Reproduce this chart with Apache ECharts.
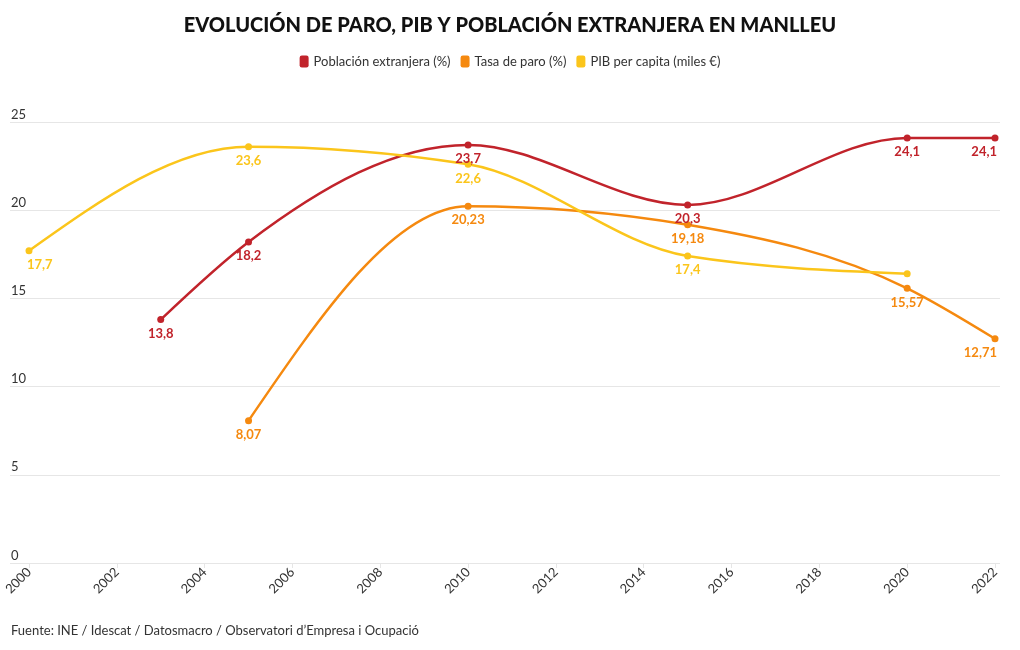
<!DOCTYPE html>
<html><head><meta charset="utf-8">
<script src="https://cdn.jsdelivr.net/npm/echarts@6/dist/echarts.min.js"></script>
<style>html,body{margin:0;padding:0;background:#fff}#c{width:1020px;height:650px}</style>
</head><body><div id="c"></div>
<script>
const xTicks = [2000, 2002, 2004, 2006, 2008, 2010, 2012, 2014, 2016, 2018, 2020, 2022];
const poblacion = [[2003, 13.8], [2005, 18.2], [2010, 23.7], [2015, 20.3], [2020, 24.1], [2022, 24.1]];
const paro = [[2005, 8.07], [2010, 20.23], [2015, 19.18], [2020, 15.57], [2022, 12.71]];
const pib = [[2000, 17.7], [2005, 23.6], [2010, 22.6], [2015, 17.4], [2020, 16.4]];
const pibHiddenLabel = [2020];
const seriesNames = ['Población extranjera (%)', 'Tasa de paro (%)', 'PIB per capita (miles €)'];
const colors = ['#c1232b', '#f5890f', '#fbc51b'];
const FONT = 'Lato';

const chart = echarts.init(document.getElementById('c'));
function fmt(v){ return String(v).replace('.', ','); }

// monotone-x tangents (computed in pixel space)
function tangents(pts){
  const n = pts.length, t = new Array(n).fill(0);
  const sgn = v => v < 0 ? -1 : v > 0 ? 1 : 0;
  for (let i = 1; i < n - 1; i++){
    const h0 = pts[i][0] - pts[i-1][0], h1 = pts[i+1][0] - pts[i][0];
    const s0 = (pts[i][1] - pts[i-1][1]) / h0, s1 = (pts[i+1][1] - pts[i][1]) / h1;
    const p = (s0 * h1 + s1 * h0) / (h0 + h1);
    t[i] = (sgn(s0) + sgn(s1)) * Math.min(Math.abs(s0), Math.abs(s1), 0.5 * Math.abs(p)) || 0;
  }
  if (n > 1){
    const h = pts[1][0] - pts[0][0];
    const s = (pts[1][1] - pts[0][1]) / h;
    t[0] = n > 2 ? (3 * s - t[1]) / 2 : s;
    const hl = pts[n-1][0] - pts[n-2][0];
    const sl = (pts[n-1][1] - pts[n-2][1]) / hl;
    t[n-1] = n > 2 ? (3 * sl - t[n-2]) / 2 : sl;
  }
  return t;
}
function curveSeries(name, data, color){
  return {
    name, type: 'custom', xAxisIndex: 1, yAxisIndex: 1, z: 2, silent: true,
    data: data,
    renderItem: function(params, api){
      const i = params.dataIndex;
      if (i >= data.length - 1) return null;
      const pts = data.map(d => api.coord(d));
      const t = tangents(pts);
      const a = pts[i], b = pts[i+1], dx = (b[0] - a[0]) / 3;
      return {type: 'bezierCurve',
        shape: {x1: a[0], y1: a[1], x2: b[0], y2: b[1],
          cpx1: a[0] + dx, cpy1: a[1] + dx * t[i], cpx2: b[0] - dx, cpy2: b[1] - dx * t[i+1]},
        style: {stroke: color, lineWidth: 2.5, fill: null}};
    }
  };
}
const xMin = xTicks[0], xMax = xTicks[xTicks.length - 1];
function pointSeries(name, data, color, hidden){
  return {
    name, type: 'scatter', xAxisIndex: 1, yAxisIndex: 1, z: 3,
    data: data.map(d => {
      if (hidden && hidden.includes(d[0])) return {value: d, label: {show: false}};
      if (d[0] === xMin) return {value: d, label: {align: 'left', offset: [-2, 0]}};
      if (d[0] === xMax) return {value: d, label: {align: 'right', offset: [2, 0]}};
      return d;
    }),
    symbol: 'circle', symbolSize: 7, itemStyle: {color, opacity: 1},
    label: {show: true, position: 'bottom', distance: 4, color, opacity: 1, fontFamily: FONT, fontWeight: 'bold', fontSize: 13,
      formatter: p => fmt(p.value[1])}
  };
}
chart.setOption({
  animation: false,
  textStyle: {fontFamily: FONT},
  title: {text: 'EVOLUCIÓN DE PARO, PIB Y POBLACIÓN EXTRANJERA EN MANLLEU', left: 'center', top: 11,
    textStyle: {fontFamily: FONT, fontWeight: 900, fontSize: 20, color: '#111'}},
  legend: {top: 50, left: 'center', itemWidth: 9, itemHeight: 12, itemGap: 10, icon: 'roundRect',
    textStyle: {fontFamily: FONT, fontSize: 13, color: '#333'}, data: seriesNames},
  color: colors,
  grid: [
    {left: 10, right: 20, top: 122, bottom: 87},
    {left: 29, right: 25, top: 122, bottom: 87}
  ],
  xAxis: [
    {gridIndex: 0, type: 'value', min: 0, max: 1, show: false},
    {gridIndex: 1, type: 'value', min: xMin, max: xMax, interval: 2,
      axisLine: {show: false}, axisTick: {show: true, length: 5, lineStyle: {color: '#e6e6e6'}},
      splitLine: {show: false},
      axisLabel: {rotate: 45, fontSize: 13, color: '#333', fontFamily: FONT, margin: 7, formatter: v => String(v)}}
  ],
  yAxis: [
    {gridIndex: 0, type: 'value', min: 0, max: 25, interval: 5,
      axisLine: {show: false}, axisTick: {show: false},
      splitLine: {lineStyle: {color: '#e6e6e6', width: 1}},
      axisLabel: {inside: true, verticalAlign: 'bottom', align: 'left', margin: 1, padding: [0,0,1,0],
        fontSize: 13, color: '#333', fontFamily: FONT}},
    {gridIndex: 1, type: 'value', min: 0, max: 25, interval: 5, show: false}
  ],
  series: [
    curveSeries(seriesNames[0], poblacion, colors[0]),
    curveSeries(seriesNames[1], paro, colors[1]),
    curveSeries(seriesNames[2], pib, colors[2]),
    pointSeries(seriesNames[0], poblacion, colors[0]),
    pointSeries(seriesNames[1], paro, colors[1]),
    pointSeries(seriesNames[2], pib, colors[2], pibHiddenLabel)
  ],
  graphic: [{type: 'text', left: 11, top: 624,
    style: {text: 'Fuente: INE / Idescat / Datosmacro / Observatori d’Empresa i Ocupació', fontFamily: FONT, fontSize: 13, fill: '#333'}}]
});
</script></body></html>
